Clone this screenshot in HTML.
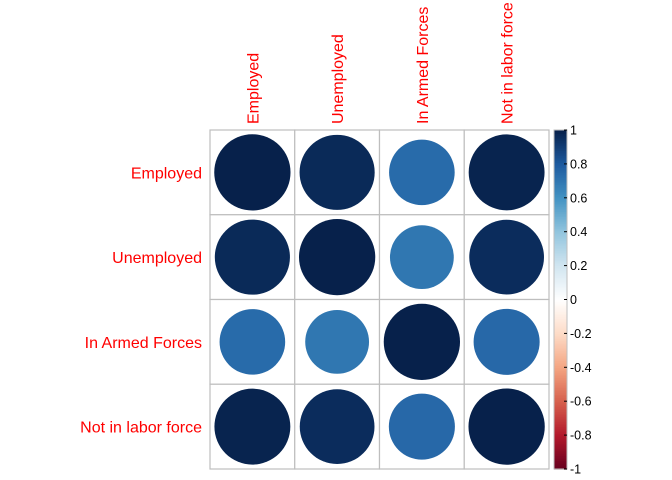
<!DOCTYPE html>
<html><head><meta charset="utf-8"><style>
html,body{margin:0;padding:0;background:#fff;}
svg{display:block;font-family:"Liberation Sans",Arial,sans-serif;}
</style></head><body>
<svg id="chart" width="672" height="480" xmlns="http://www.w3.org/2000/svg"></svg>
<script>
const labels = ["Employed","Unemployed","In Armed Forces","Not in labor force"];
const row0 = [1.00, 0.97, 0.74, 0.99];
const row1 = [0.97, 1.00, 0.70, 0.96];
const row2 = [0.74, 0.70, 1.00, 0.75];
const row3 = [0.99, 0.96, 0.75, 1.00];
const matrix = [row0,row1,row2,row3];
const cbTicks = [1,0.8,0.6,0.4,0.2,0,-0.2,-0.4,-0.6,-0.8,-1];
const cbTickLabels = ["1","0.8","0.6","0.4","0.2","0","-0.2","-0.4","-0.6","-0.8","-1"];
const palette = ["#67001F","#B2182B","#D6604D","#F4A582","#FDDBC7","#FFFFFF","#D1E5F0","#92C5DE","#4393C3","#1D5A9F","#07214B"];

const NS="http://www.w3.org/2000/svg";
const svg=document.getElementById('chart');
const X0=210,Y0=130,C=84.75,N=labels.length;
const CBX=554,CBW=13,CBT=130,CBB=469;
function mk(t,a,p){const e=document.createElementNS(NS,t);for(const k in a)e.setAttribute(k,a[k]);(p||svg).appendChild(e);return e;}
function hex(h){return [1,3,5].map(i=>parseInt(h.substr(i,2),16));}
function color(v){const t=(v+1)/2*(palette.length-1);let i=Math.min(Math.floor(t),palette.length-2);const f=t-i;const a=hex(palette[i]),b=hex(palette[i+1]);return 'rgb('+a.map((x,k)=>Math.round(x+(b[k]-x)*f)).join(',')+')';}
function cx(j){return X0+C*j+C/2;}
function cy(i){return Y0+C*i+C/2;}
function cbY(v){return CBB-(v+1)/2*(CBB-CBT);}

for(let i=0;i<N;i++)for(let j=0;j<N;j++){
  const r=mk('rect',{x:X0+C*j,y:Y0+C*i,width:C,height:C,fill:'#fff',stroke:'#bebebe','stroke-width':1.2});
  
  
}
for(let i=0;i<N;i++)for(let j=0;j<N;j++){
  const v=matrix[i][j];
  const c=mk('circle',{cx:cx(j),cy:cy(i),r:0.9*C/2*Math.sqrt(Math.abs(v)),fill:color(v)});
  
  
}
labels.forEach((l,i)=>{
  const t=mk('text',{x:202,y:cy(i)+6,'text-anchor':'end','font-size':16,fill:'#ff0000'});t.textContent=l;
  
  
  const u=mk('text',{x:0,y:0,'text-anchor':'start','font-size':16,fill:'#ff0000',transform:'translate('+(cx(i)+6)+',124) rotate(-90)'});u.textContent=l;
  
  
});
const steps=200;
for(let k=0;k<steps;k++){
  const v=-1+(k+0.5)*2/steps;
  const y1=cbY(-1+(k+1)*2/steps),y0=cbY(-1+k*2/steps);
  const r=mk('rect',{x:CBX,y:y1,width:CBW,height:y0-y1+0.6,fill:color(v)});
  
  
}
const fr=mk('rect',{x:CBX,y:CBT,width:CBW,height:CBB-CBT,fill:'none',stroke:'#bebebe','stroke-width':1});


cbTicks.forEach((v,k)=>{
  const y=cbY(v);
  mk('line',{x1:CBX+CBW-3,x2:CBX+CBW,y1:y,y2:y,stroke:'#000','stroke-width':1});
  const t=mk('text',{x:570,y:y+4.5,'font-size':12.5,fill:'#000'});t.textContent=cbTickLabels[k];
  
  
});
</script>
</body></html>
